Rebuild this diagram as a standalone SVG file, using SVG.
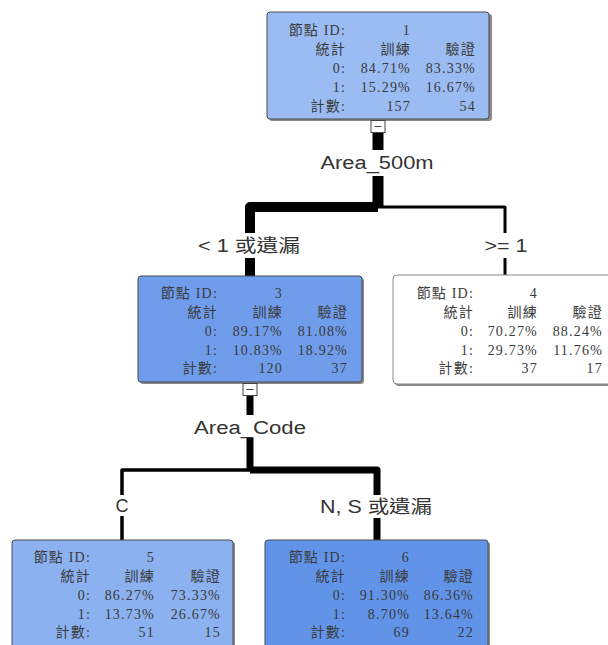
<svg xmlns="http://www.w3.org/2000/svg" width="608" height="645" viewBox="0 0 608 645">
<style>
.box{stroke:#4a4a4a;stroke-width:1}
.shadow{fill:#8a8a8a}
.t{font-family:"Liberation Serif","Noto Sans CJK TC",serif;font-size:14px;letter-spacing:1.2px;fill:#3a3a3a;text-anchor:end}
.lbl{font-family:"Liberation Sans","Noto Sans CJK TC",sans-serif;font-size:18px;fill:#333;text-anchor:middle}
.c{fill:none;stroke:#000;stroke-linejoin:round;stroke-linecap:butt}
.tog{fill:#fff;stroke:#444;stroke-width:1}
</style>
<rect width="608" height="645" fill="#fff"/>
<g id="connectors">
<path class="c" d="M378,132 V207" stroke-width="11"/>
<path class="c" d="M378,207 H250 V276" stroke-width="10"/>
<path class="c" d="M378,207 H505 V275" stroke-width="3"/>
<path class="c" d="M250,396 V470" stroke-width="7"/>
<path class="c" d="M250,470 H377 V540" stroke-width="7"/>
<path class="c" d="M250,470 H122 V540" stroke-width="3.5"/>
</g>
<g id="labels">
<rect x="318" y="150" width="118" height="26" fill="#fff"/>
<text class="lbl" x="377" y="169" textLength="113" lengthAdjust="spacingAndGlyphs">Area_500m</text>
<rect x="196" y="233" width="106" height="25" fill="#fff"/>
<text class="lbl" x="249" y="252" textLength="102" lengthAdjust="spacingAndGlyphs">&lt; 1 或遺漏</text>
<rect x="481" y="233" width="50" height="25" fill="#fff"/>
<text class="lbl" x="506" y="252" textLength="43" lengthAdjust="spacingAndGlyphs">&gt;= 1</text>
<rect x="190" y="415" width="120" height="23" fill="#fff"/>
<text class="lbl" x="250" y="434" textLength="112" lengthAdjust="spacingAndGlyphs">Area_Code</text>
<rect x="113" y="495" width="19" height="21" fill="#fff"/>
<text class="lbl" x="122" y="512">C</text>
<rect x="318" y="495" width="116" height="23" fill="#fff"/>
<text class="lbl" x="376" y="513" textLength="112" lengthAdjust="spacingAndGlyphs">N, S 或遺漏</text>
</g>
<g id="node1">
<rect class="shadow" x="269" y="14" width="223" height="107" rx="3"/>
<rect class="box" x="267" y="12" width="222" height="107" rx="3" fill="#9bbcf2"/>
<text class="t" x="346" y="35">節點 ID:</text><text class="t" x="411" y="35">1</text>
<text class="t" x="346" y="54">統計</text><text class="t" x="411" y="54">訓練</text><text class="t" x="476" y="54">驗證</text>
<text class="t" x="346" y="73">0:</text><text class="t" x="411" y="73">84.71%</text><text class="t" x="476" y="73">83.33%</text>
<text class="t" x="346" y="92">1:</text><text class="t" x="411" y="92">15.29%</text><text class="t" x="476" y="92">16.67%</text>
<text class="t" x="346" y="111">計數:</text><text class="t" x="411" y="111">157</text><text class="t" x="476" y="111">54</text>
<rect class="tog" x="371" y="120.5" width="14" height="12"/>
<line x1="374.5" y1="126.5" x2="381.5" y2="126.5" stroke="#444" stroke-width="1"/>
</g>
<g id="node3">
<rect class="shadow" x="140" y="278" width="224" height="106" rx="3"/>
<rect class="box" x="138" y="276" width="224" height="106" rx="3" fill="#6f9deb"/>
<text class="t" x="218" y="298">節點 ID:</text><text class="t" x="283" y="298">3</text>
<text class="t" x="218" y="317">統計</text><text class="t" x="283" y="317">訓練</text><text class="t" x="348" y="317">驗證</text>
<text class="t" x="218" y="336">0:</text><text class="t" x="283" y="336">89.17%</text><text class="t" x="348" y="336">81.08%</text>
<text class="t" x="218" y="355">1:</text><text class="t" x="283" y="355">10.83%</text><text class="t" x="348" y="355">18.92%</text>
<text class="t" x="218" y="373">計數:</text><text class="t" x="283" y="373">120</text><text class="t" x="348" y="373">37</text>
<rect class="tog" x="243" y="383.5" width="14" height="12"/>
<line x1="246.5" y1="389.5" x2="253.5" y2="389.5" stroke="#444" stroke-width="1"/>
</g>
<g id="node4">
<rect class="shadow" x="395" y="277" width="224" height="109" rx="4"/>
<rect x="393" y="275" width="224" height="109" rx="4" fill="#fff" stroke="#888" stroke-width="1"/>
<text class="t" x="474" y="298">節點 ID:</text><text class="t" x="538" y="298">4</text>
<text class="t" x="474" y="317">統計</text><text class="t" x="538" y="317">訓練</text><text class="t" x="603" y="317">驗證</text>
<text class="t" x="474" y="336">0:</text><text class="t" x="538" y="336">70.27%</text><text class="t" x="603" y="336">88.24%</text>
<text class="t" x="474" y="355">1:</text><text class="t" x="538" y="355">29.73%</text><text class="t" x="603" y="355">11.76%</text>
<text class="t" x="474" y="373">計數:</text><text class="t" x="538" y="373">37</text><text class="t" x="603" y="373">17</text>
</g>
<g id="node5">
<rect class="shadow" x="14" y="542" width="221" height="110" rx="3"/>
<rect class="box" x="12" y="540" width="221" height="110" rx="3" fill="#8bb1f0"/>
<text class="t" x="91" y="562">節點 ID:</text><text class="t" x="155" y="562">5</text>
<text class="t" x="91" y="581">統計</text><text class="t" x="155" y="581">訓練</text><text class="t" x="221" y="581">驗證</text>
<text class="t" x="91" y="600">0:</text><text class="t" x="155" y="600">86.27%</text><text class="t" x="221" y="600">73.33%</text>
<text class="t" x="91" y="619">1:</text><text class="t" x="155" y="619">13.73%</text><text class="t" x="221" y="619">26.67%</text>
<text class="t" x="91" y="637">計數:</text><text class="t" x="155" y="637">51</text><text class="t" x="221" y="637">15</text>
</g>
<g id="node6">
<rect class="shadow" x="267" y="542" width="223" height="110" rx="3"/>
<rect class="box" x="265" y="540" width="223" height="110" rx="3" fill="#6194e8"/>
<text class="t" x="346" y="562">節點 ID:</text><text class="t" x="410" y="562">6</text>
<text class="t" x="346" y="581">統計</text><text class="t" x="410" y="581">訓練</text><text class="t" x="474" y="581">驗證</text>
<text class="t" x="346" y="600">0:</text><text class="t" x="410" y="600">91.30%</text><text class="t" x="474" y="600">86.36%</text>
<text class="t" x="346" y="619">1:</text><text class="t" x="410" y="619">8.70%</text><text class="t" x="474" y="619">13.64%</text>
<text class="t" x="346" y="637">計數:</text><text class="t" x="410" y="637">69</text><text class="t" x="474" y="637">22</text>
</g>
</svg>
